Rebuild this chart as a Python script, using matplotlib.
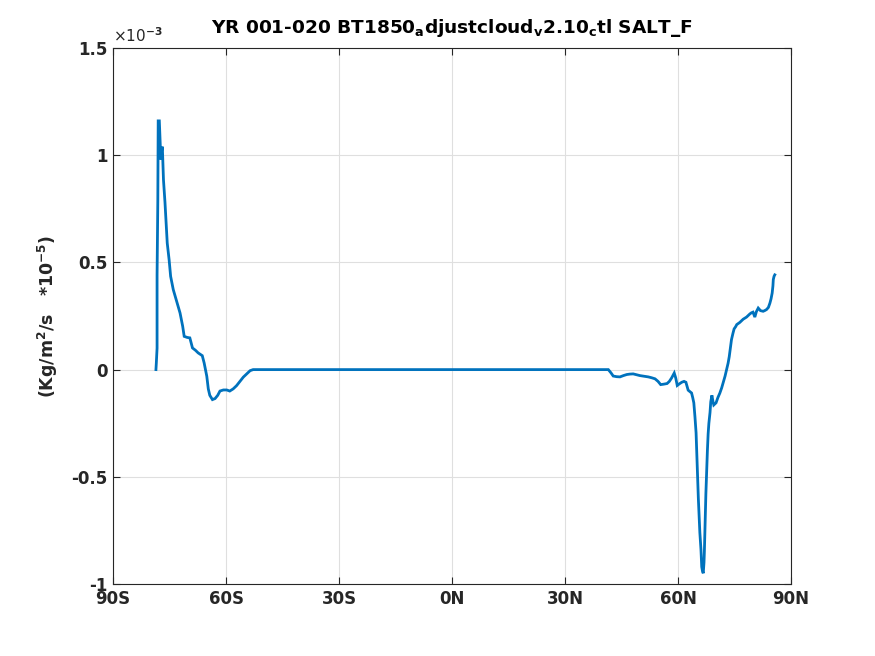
import matplotlib
matplotlib.use("Agg")
import matplotlib.pyplot as plt
import numpy as np

# latitude (deg) and SALT_F (units of 1e-3 Kg/m^2/s)
lat = [-78.6, -78.5, -78.3, -78.3, -78.1, -78.0, -77.7, -77.3, -77.1, -76.9, -76.6,
       -76.2, -75.9, -75.6, -75.1, -74.7, -74.0, -73.1, -72.2, -71.5, -71.1,
       -70.3, -69.6, -68.9, -68.1, -67.4, -66.3, -65.8, -65.1, -64.7, -64.3, -63.6,
       -62.9, -62.2, -61.6, -60.7,
       -59.8, -59.0, -58.1, -57.2, -56.3, -55.4, -54.5, -53.6, -52.8, -52.0,
       -40.0, -20.0, 0.0, 20.0, 38.0, 40.0, 41.5, 42.2, 42.8, 43.7, 44.6, 45.5, 46.4,
       47.2, 48.1, 49.0, 49.9, 51.0, 52.1, 53.0, 53.9, 54.7, 55.4, 56.2, 57.1, 57.7,
       58.3, 59.0, 59.4, 59.8, 60.4, 61.0, 61.6, 62.1, 62.7, 63.2, 63.6, 63.9, 64.2,
       64.5, 64.8, 65.0, 65.2, 65.4, 65.6, 65.8, 66.1, 66.3, 66.5, 66.7, 66.9, 67.0,
       67.2, 67.4, 67.6, 67.8, 68.0, 68.2, 68.5, 68.7, 69.0, 69.3, 69.5, 69.8, 70.1,
       70.6, 71.1, 71.6, 72.0, 72.5, 72.9, 73.3, 73.6, 73.9, 74.2, 74.6, 74.9, 75.3,
       75.6, 76.4, 77.3, 78.2, 79.1, 79.5, 79.9, 80.2, 80.4, 80.8, 81.3, 81.9, 82.6,
       83.0, 83.5, 84.0, 84.4, 84.7, 85.0, 85.2, 85.3, 85.5, 85.7]
salt = [0.00, 0.03, 0.10, 0.44, 0.79, 1.16, 1.16, 0.98, 1.02, 1.04, 0.885,
        0.78, 0.683, 0.59, 0.512, 0.435, 0.373, 0.318, 0.264, 0.202, 0.155,
        0.150, 0.148, 0.101, 0.090, 0.078, 0.065, 0.031, -0.031, -0.09, -0.12, -0.14,
        -0.135, -0.12, -0.10, -0.095,
        -0.095, -0.10, -0.09, -0.075, -0.055, -0.035, -0.02, -0.005, 0.0, 0.0,
        0.0, 0.0, 0.0, 0.0, 0.0, 0.0, 0.0, -0.015, -0.03, -0.033, -0.034, -0.028, -0.023,
        -0.021, -0.020, -0.024, -0.028, -0.031, -0.034, -0.038, -0.043, -0.055, -0.070, -0.068, -0.065, -0.055,
        -0.039, -0.016, -0.039, -0.074, -0.066, -0.059, -0.055, -0.059, -0.096, -0.103, -0.109, -0.130, -0.155,
        -0.22, -0.295, -0.40, -0.50, -0.60, -0.68, -0.76, -0.84, -0.92, -0.94, -0.95, -0.90, -0.85,
        -0.71, -0.58, -0.48, -0.38, -0.30, -0.25, -0.20, -0.15, -0.12, -0.15, -0.165, -0.16, -0.155,
        -0.13, -0.11, -0.085, -0.06, -0.03, 0.00, 0.03, 0.06, 0.10, 0.14, 0.17, 0.19, 0.20,
        0.21, 0.22, 0.235, 0.245, 0.26, 0.265, 0.268, 0.255, 0.245, 0.27, 0.287, 0.275, 0.272,
        0.275, 0.28, 0.29, 0.31, 0.33, 0.357, 0.39, 0.42, 0.435, 0.442]

xticks = [-90, -60, -30, 0, 30, 60, 90]
xticklabels = ["90S", "60S", "30S", "0N", "30N", "60N", "90N"]
yticks = [-1, -0.5, 0, 0.5, 1, 1.5]
yticklabels = ["-1", "-0.5", "0", "0.5", "1", "1.5"]

plt.rcParams['font.family'] = ['DejaVu Sans']
fig = plt.figure(figsize=(8.75, 6.56), dpi=100)
ax = fig.add_axes([113/875, 1-584/656, (791-113)/875, (584-48)/656])

ax.plot(lat, salt, color='#0072BD', lw=2.0, solid_joinstyle='miter')

ax.set_xlim(-90, 90)
ax.set_ylim(-1, 1.5)
ax.set_xticks(xticks)
ax.set_xticklabels(xticklabels, fontsize=12, fontweight='bold', color='#262626')
ax.set_yticks(yticks)
ax.set_yticklabels(yticklabels, fontsize=12, fontweight='bold', color='#262626')
ax.tick_params(direction='in', length=5, width=0.8, top=True, right=True, colors='#262626', pad=4)
ax.grid(True, color='#dfdfdf', lw=0.8)
ax.set_axisbelow(True)
for s in ax.spines.values():
    s.set_color('#262626')
    s.set_linewidth(0.8)

ax.text(0.0, 1.005, r'$\times$10$^{\mathbf{-3}}$', transform=ax.transAxes, fontsize=11,
        color='#262626', ha='left', va='bottom')

ax.set_ylabel(r'(Kg/m$^\mathbf{2}$/s   *10$^{\mathbf{-5}}$)', fontsize=12.5, fontweight='bold',
              color='#262626', labelpad=8)
fig.text(452/875, 1-28/656,
         r'YR 001-020 BT1850$_\mathbf{a}$djustcloud$_\mathbf{v}$2.10$_\mathbf{c}$tl SALT_F',
         fontsize=13.3, fontweight='bold', ha='center', va='center', color='black')

fig.savefig('out.png', dpi=100, facecolor='white')
